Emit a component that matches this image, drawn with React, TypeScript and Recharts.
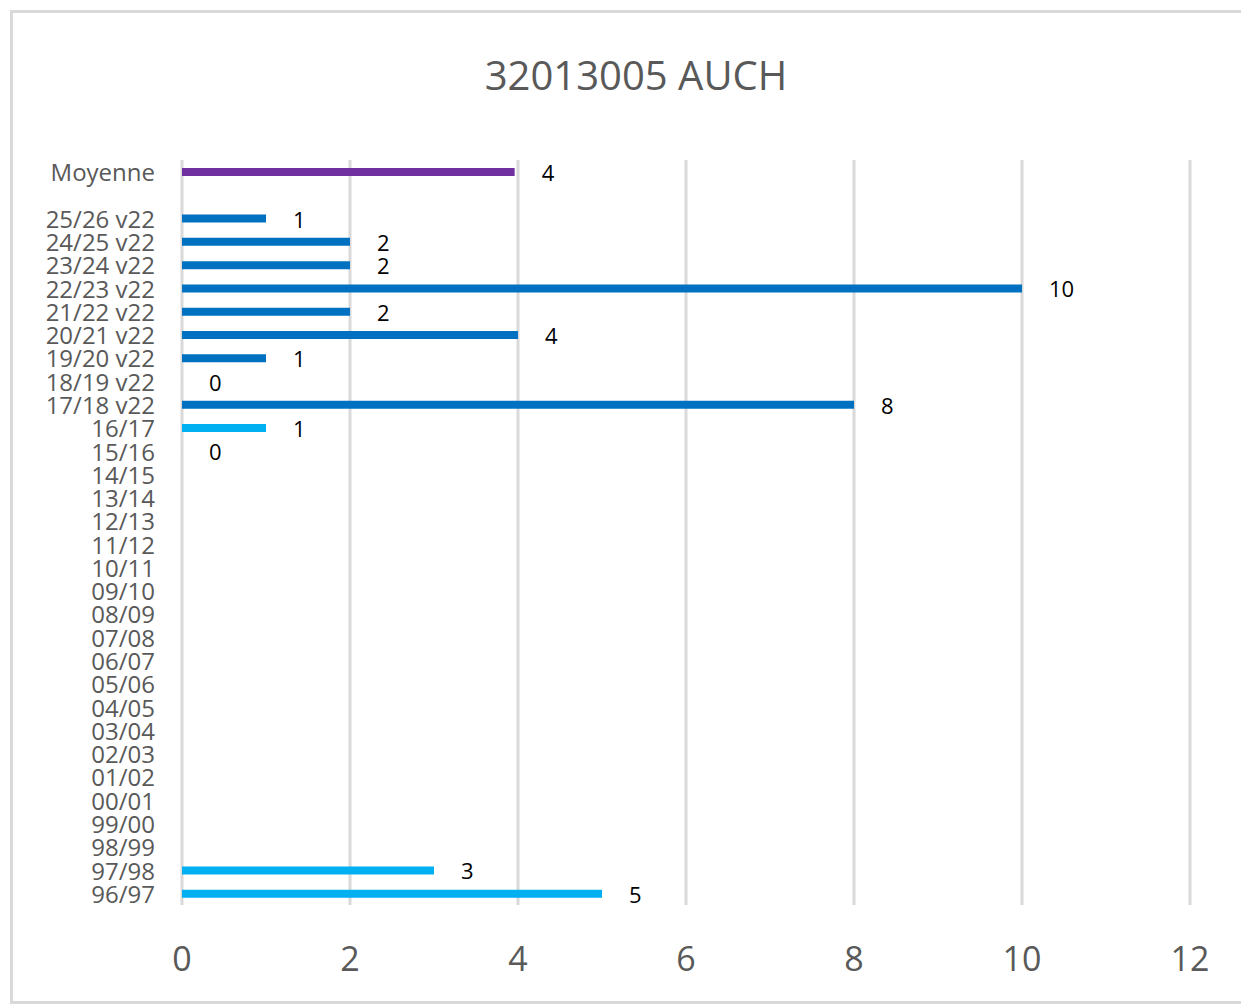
import React from 'react';
import { BarChart, Bar, XAxis, YAxis, CartesianGrid, Cell, LabelList } from 'recharts';

const categories = [
  'Moyenne', '',
  '25/26 v22', '24/25 v22', '23/24 v22', '22/23 v22', '21/22 v22',
  '20/21 v22', '19/20 v22', '18/19 v22', '17/18 v22',
  '16/17', '15/16', '14/15', '13/14', '12/13', '11/12', '10/11', '09/10',
  '08/09', '07/08', '06/07', '05/06', '04/05', '03/04', '02/03', '01/02',
  '00/01', '99/00', '98/99', '97/98', '96/97',
];

const values: (number | null)[] = [
  3.96, null,
  1, 2, 2, 10, 2, 4, 1, 0, 8,
  1, 0, null, null, null, null, null, null, null, null, null, null, null,
  null, null, null, null, null, null, 3, 5,
];

const xTicks = [0, 2, 4, 6, 8, 10, 12];

const colorFor = (cat: string) => {
  if (cat === 'Moyenne') return '#7030A0';
  if (cat.includes('v22')) return '#0070C0';
  return '#00B0F0';
};

const data = categories.map((cat, i) => ({ cat, value: values[i] }));

const FONT = '"Open Sans", sans-serif';

const YTick = (props: any) => {
  const { x, y, payload } = props;
  return (
    <text x={x - 27} y={y} textAnchor="end" dominantBaseline="central" fill="#595959" fontSize={24} fontFamily={FONT}>
      {payload.value}
    </text>
  );
};

const XTick = (props: any) => {
  const { x, y, payload } = props;
  return (
    <text x={x} y={y + 53} textAnchor="middle" dominantBaseline="central" fill="#595959" fontSize={34} fontFamily={FONT}>
      {payload.value}
    </text>
  );
};

// zero values still get a label, empty seasons get none
const ValueLabel = (props: any) => {
  const { x, y, width, height, value } = props;
  if (value === null || value === undefined) return null;
  return (
    <text x={x + width + 27} y={y + height / 2} textAnchor="start" dominantBaseline="central" fill="#000" fontSize={22} fontFamily={FONT}>
      {Math.round(value)}
    </text>
  );
};

export default function App() {
  return (
    <div style={{ position: 'absolute', left: 0, top: 0, width: 1241, height: 1005, overflow: 'hidden', background: '#fff' }}>
      <div style={{ position: 'absolute', left: 10, top: 10, width: 1300, height: 994, border: '3px solid #d9d9d9', boxSizing: 'border-box' }} />
      <div style={{ position: 'absolute', left: 0, top: 55, width: 1272, textAlign: 'center', fontFamily: FONT, fontSize: 40, lineHeight: '40px', color: '#595959' }}>
        32013005 AUCH
      </div>
      <div style={{ position: 'absolute', left: 0, top: 0 }}>
        <BarChart
          width={1241}
          height={1005}
          data={data}
          layout="vertical"
          margin={{ top: 160, right: 51, bottom: 20, left: 10 }}
          barSize={8}
        >
          <CartesianGrid horizontal={false} stroke="#d9d9d9" strokeWidth={3} />
          <XAxis
            type="number"
            domain={[0, 12]}
            ticks={xTicks}
            axisLine={false}
            tickLine={false}
            tickSize={0}
            tickMargin={0}
            height={80}
            tick={<XTick />}
            interval={0}
          />
          <YAxis
            type="category"
            dataKey="cat"
            width={172}
            axisLine={false}
            tickLine={false}
            tickSize={0}
            tickMargin={0}
            interval={0}
            tick={<YTick />}
          />
          <Bar dataKey="value" isAnimationActive={false} minPointSize={0.01}>
            {data.map((d, i) => (
              <Cell key={i} fill={colorFor(d.cat)} />
            ))}
            <LabelList dataKey="value" content={<ValueLabel />} />
          </Bar>
        </BarChart>
      </div>
    </div>
  );
}
